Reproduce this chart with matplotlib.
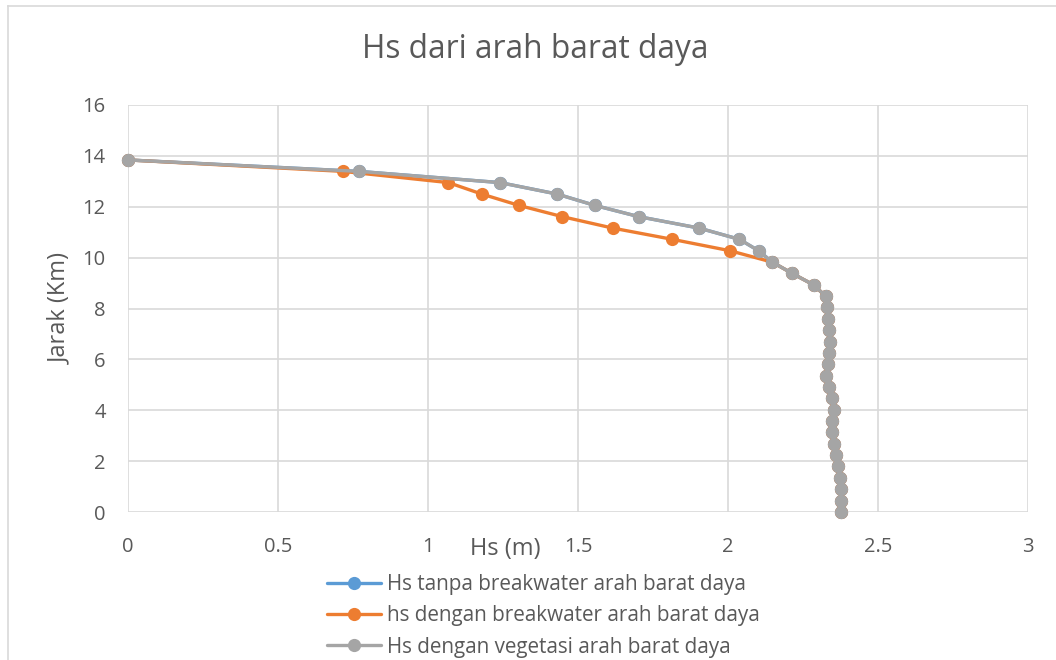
import matplotlib
matplotlib.use("Agg")
import matplotlib.pyplot as plt
from matplotlib.lines import Line2D

# Data
jarak_km = [13.84, 13.39, 12.95, 12.50, 12.05, 11.61, 11.16, 10.72, 10.27, 9.82,
            9.38, 8.93, 8.49, 8.04, 7.59, 7.15, 6.70, 6.25, 5.81, 5.36,
            4.91, 4.47, 4.02, 3.57, 3.13, 2.68, 2.23, 1.79, 1.34, 0.89,
            0.45, 0.00]

hs_tanpa = [0.0, 0.77, 1.24, 1.43, 1.557, 1.703, 1.904, 2.038, 2.102, 2.148,
            2.214, 2.285, 2.325, 2.330, 2.333, 2.338, 2.341, 2.338, 2.333, 2.326,
            2.335, 2.345, 2.352, 2.348, 2.348, 2.354, 2.360, 2.367, 2.372, 2.376,
            2.378, 2.378]

hs_breakwater = [0.0, 0.717, 1.068, 1.179, 1.304, 1.448, 1.616, 1.814, 2.007, 2.148,
                 2.214, 2.285, 2.325, 2.330, 2.333, 2.338, 2.341, 2.338, 2.333, 2.326,
                 2.335, 2.345, 2.352, 2.348, 2.348, 2.354, 2.360, 2.367, 2.372, 2.376,
                 2.378, 2.378]

hs_vegetasi = [0.0, 0.77, 1.24, 1.43, 1.557, 1.703, 1.904, 2.038, 2.102, 2.148,
               2.214, 2.285, 2.325, 2.330, 2.333, 2.338, 2.341, 2.338, 2.333, 2.326,
               2.335, 2.345, 2.352, 2.348, 2.348, 2.354, 2.360, 2.367, 2.372, 2.376,
               2.378, 2.378]

series_labels = ["Hs tanpa breakwater arah barat daya",
                 "hs dengan breakwater arah barat daya",
                 "Hs dengan vegetasi arah barat daya"]
series_colors = ["#5B9BD5", "#ED7D31", "#A5A5A5"]

x_ticks = [0, 0.5, 1, 1.5, 2, 2.5, 3]
x_tick_labels = ["0", "0.5", "1", "1.5", "2", "2.5", "3"]
y_ticks = [0, 2, 4, 6, 8, 10, 12, 14, 16]

plt.rcParams['font.family'] = ['Open Sans', 'DejaVu Sans']
text_color = "#595959"

fig = plt.figure(figsize=(10.56, 6.6), dpi=100)
ax = fig.add_axes([128/1056, 1 - 512/660, 900/1056, 407/660])

handles = []
for xs, lab, col in zip([hs_tanpa, hs_breakwater, hs_vegetasi], series_labels, series_colors):
    h, = ax.plot(xs, jarak_km, color=col, lw=2.4, marker='o', markersize=9.5,
                 markeredgewidth=0, label=lab, solid_capstyle='round', clip_on=False)
    handles.append(h)

ax.set_xlim(0, 3)
ax.set_ylim(0, 16)
ax.set_xticks(x_ticks)
ax.set_xticklabels(x_tick_labels)
ax.set_yticks(y_ticks)
ax.grid(True, color="#D9D9D9", lw=1.2)
ax.set_axisbelow(True)
for s in ax.spines.values():
    s.set_visible(False)
ax.tick_params(length=0, labelsize=14.5, labelcolor=text_color)
ax.tick_params(axis='x', pad=18)
ax.tick_params(axis='y', pad=16)

fig.text(535/1056, 1 - 50/660, "Hs dari arah barat daya", fontsize=22.8,
         color=text_color, ha='center', va='center')
ax.set_xlabel("Hs (m)", fontsize=17, color=text_color)
ax.xaxis.set_label_coords((505 - 128)/900, -(549 - 512)/407)
ax.xaxis.label.set_va('center')
ax.set_ylabel("Jarak (Km)", fontsize=17, color=text_color)
ax.yaxis.set_label_coords((60 - 128)/900, (512 - 308)/407)
ax.yaxis.label.set_va('center')

leg = fig.legend(handles=handles, loc='upper left',
                 bbox_to_anchor=(327/1056, 1 - 574/660), frameon=False,
                 fontsize=14.9, handlelength=2.6, handletextpad=0.29,
                 labelspacing=0.5, borderpad=0, borderaxespad=0)
for t in leg.get_texts():
    t.set_color(text_color)

# outer chart border
border_col = "#D9D9D9"
fig.add_artist(Line2D([8/1056, 8/1056], [0, 1 - 6/660], transform=fig.transFigure,
                      color=border_col, lw=1.2))
fig.add_artist(Line2D([8/1056, 1], [1 - 6/660, 1 - 6/660], transform=fig.transFigure,
                      color=border_col, lw=1.2))

fig.savefig("out.png", dpi=100)
